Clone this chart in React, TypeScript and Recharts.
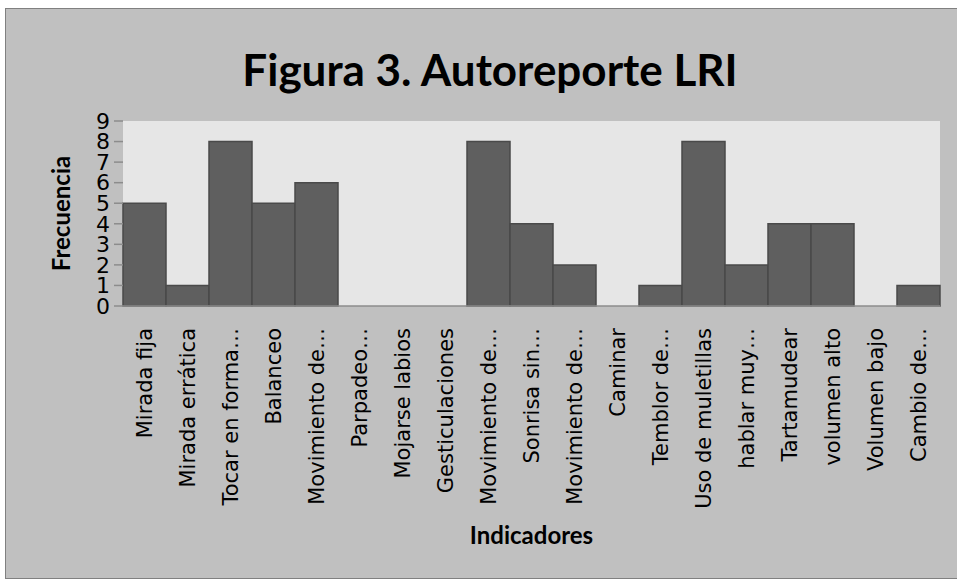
import { BarChart, Bar, XAxis, YAxis, CartesianGrid, Label } from "recharts"

const categories = [
  "Mirada fija",
  "Mirada errática",
  "Tocar en forma…",
  "Balanceo",
  "Movimiento de…",
  "Parpadeo…",
  "Mojarse labios",
  "Gesticulaciones",
  "Movimiento de…",
  "Sonrisa sin…",
  "Movimiento de…",
  "Caminar",
  "Temblor de…",
  "Uso de muletillas",
  "hablar muy…",
  "Tartamudear",
  "volumen alto",
  "Volumen bajo",
  "Cambio de…",
]

const frecuencia = [5, 1, 8, 5, 6, 0, 0, 0, 8, 4, 2, 0, 1, 8, 2, 4, 4, 0, 1]

const yTicks = [0, 1, 2, 3, 4, 5, 6, 7, 8, 9]

const data = categories.map((c, i) => ({ id: i, label: c, value: frecuencia[i] }))

const RotatedTick = (props: any) => {
  const { x, y, payload } = props
  return (
    <text
      x={x}
      y={y}
      transform={`rotate(-90, ${x}, ${y}) translate(-14, 7)`}
      textAnchor="end"
      fontSize={21}
      fontFamily="DejaVu Sans"
      fill="#000"
    >
      {categories[payload.value]}
    </text>
  )
}

export default function App() {
  return (
    <div style={{ position: "fixed", left: 0, top: 0, width: 957, height: 579, background: "#fff" }}>
      <div
        style={{
          position: "absolute",
          left: 5,
          top: 8,
          width: 960,
          height: 569,
          background: "#c0c0c0",
          border: "1px solid #808080",
        }}
      />
      <div
        style={{
          position: "absolute",
          left: 0,
          top: 43,
          width: 980,
          textAlign: "center",
          fontFamily: "Lato",
          fontWeight: 700,
          fontSize: 44,
          color: "#000",
        }}
      >
        Figura 3. Autoreporte LRI
      </div>
      <div style={{ position: "absolute", left: 0, top: 0 }}>
        <BarChart
          width={957}
          height={579}
          data={data}
          barCategoryGap={0}
          margin={{ top: 121, right: 17, left: 83, bottom: 0 }}
        >
          <CartesianGrid fill="#e6e6e6" horizontal={false} vertical={false} />
          <XAxis
            dataKey="id"
            interval={0}
            tickLine={false}
            axisLine={{ stroke: "#8c8c8c", strokeWidth: 1.5 }}
            height={273}
            tick={<RotatedTick />}
          >
            <Label
              value="Indicadores"
              position="insideTop"
              offset={221}
              style={{ fontFamily: "Lato", fontWeight: 700, fontSize: 24, fill: "#000" }}
            />
          </XAxis>
          <YAxis
            width={40}
            domain={[0, 9]}
            ticks={yTicks}
            interval={0}
            axisLine={false}
            tickLine={{ stroke: "#8c8c8c", strokeWidth: 1.5 }}
            tickSize={9}
            tickMargin={4}
            tick={{ fontSize: 22, fontFamily: "DejaVu Sans", fill: "#000" }}
          >
            <Label
              value="Frecuencia"
              angle={-90}
              position="insideLeft"
              offset={-22}
              style={{ fontFamily: "Lato", fontWeight: 700, fontSize: 24, fill: "#000", textAnchor: "middle" }}
            />
          </YAxis>
          <Bar
            dataKey="value"
            fill="#5f5f5f"
            stroke="#4a4a4a"
            strokeWidth={1.5}
            isAnimationActive={false}
          />
        </BarChart>
      </div>
    </div>
  )
}
